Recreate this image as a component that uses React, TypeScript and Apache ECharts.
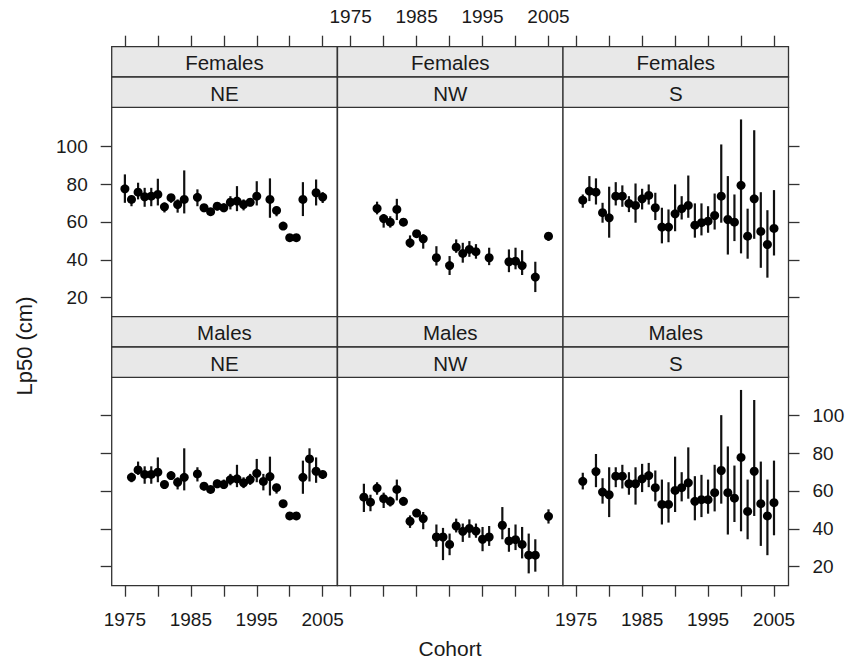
import React, { useEffect, useRef } from "react";
import * as echarts from "echarts";

type Row = [number, number, number, number]; // [cohort, Lp50, lower, upper]

const femalesNE: Row[] = [
  [1975, 77.5, 70.1, 85.1], [1976, 71.9, 68.3, 74.0], [1977, 75.7, 71.9, 80.7],
  [1978, 73.3, 68.0, 78.0], [1979, 73.6, 68.3, 78.0], [1980, 74.5, 68.7, 82.8],
  [1981, 68.0, 65.0, 70.1], [1982, 72.8, 70.1, 74.5], [1983, 69.2, 64.9, 71.9],
  [1984, 71.9, 64.5, 87.2], [1986, 73.0, 68.3, 77.2], [1987, 67.5, 65.2, 69.2],
  [1988, 65.4, 64.0, 67.0], [1989, 68.3, 66.1, 70.4], [1990, 67.5, 65.2, 69.8],
  [1991, 70.4, 66.6, 73.6], [1992, 71.0, 65.7, 78.9], [1993, 69.2, 66.1, 71.9],
  [1994, 70.4, 68.3, 72.5], [1995, 73.6, 68.7, 81.5], [1997, 71.9, 62.2, 83.0],
  [1998, 66.1, 63.0, 68.3], [1999, 57.8, 56.5, 59.2], [2000, 51.7, 50.5, 53.0],
  [2001, 51.7, 50.5, 53.0], [2002, 71.9, 63.1, 81.0], [2004, 75.4, 68.7, 82.4],
  [2005, 73.1, 70.0, 75.7],
];

const femalesNW: Row[] = [
  [1979, 67.1, 64.0, 70.7], [1980, 61.8, 57.0, 64.0], [1981, 59.9, 57.0, 63.0],
  [1982, 66.6, 61.0, 72.2], [1983, 59.9, 58.0, 62.0], [1984, 49.0, 46.4, 52.9],
  [1985, 53.8, 52.5, 55.0], [1986, 51.1, 45.9, 53.4], [1988, 41.1, 37.0, 47.2],
  [1990, 37.0, 32.0, 42.0], [1991, 46.7, 43.7, 50.8], [1992, 43.4, 38.5, 49.0],
  [1993, 45.5, 41.6, 49.9], [1994, 44.3, 40.6, 48.3], [1996, 41.1, 37.2, 46.4],
  [1999, 39.0, 33.5, 45.5], [2000, 39.3, 35.0, 46.4], [2001, 37.0, 32.0, 45.1],
  [2003, 30.9, 23.0, 39.0], [2005, 52.5, 50.0, 54.6],
];

const femalesS: Row[] = [
  [1976, 71.5, 67.5, 74.5], [1977, 76.3, 71.0, 84.2], [1978, 75.7, 69.2, 83.0],
  [1979, 64.9, 59.6, 70.1], [1980, 62.2, 51.7, 78.6], [1981, 73.6, 68.7, 81.0],
  [1982, 73.6, 68.0, 79.3], [1983, 69.8, 65.2, 73.6], [1984, 68.7, 59.6, 80.3],
  [1985, 72.2, 66.6, 77.5], [1986, 74.0, 69.2, 79.8], [1987, 67.5, 61.0, 75.4],
  [1988, 57.3, 48.7, 67.5], [1989, 57.3, 49.3, 66.6], [1990, 64.3, 55.1, 79.8],
  [1991, 67.0, 61.3, 73.6], [1992, 68.7, 62.2, 84.5], [1993, 58.3, 51.7, 69.8],
  [1994, 59.6, 52.9, 69.8], [1995, 60.4, 54.3, 68.3], [1996, 63.4, 56.0, 75.0],
  [1997, 73.6, 59.6, 100.9], [1998, 61.3, 42.8, 84.2], [1999, 59.9, 49.9, 74.5],
  [2000, 79.3, 43.4, 114.1], [2001, 52.5, 40.6, 67.0], [2002, 72.2, 51.1, 108.4],
  [2003, 55.0, 35.8, 75.7], [2004, 48.1, 30.6, 66.2], [2005, 56.6, 42.3, 76.8],
];

const malesNE: Row[] = [
  [1976, 67.2, 64.6, 69.6], [1977, 71.1, 68.5, 75.5], [1978, 68.7, 63.8, 73.0],
  [1979, 68.7, 63.8, 73.0], [1980, 69.9, 64.6, 77.7], [1981, 63.4, 61.0, 65.5],
  [1982, 68.1, 66.0, 70.2], [1983, 64.6, 60.8, 67.2], [1984, 67.2, 60.3, 82.5],
  [1986, 69.0, 65.0, 72.5], [1987, 62.5, 60.3, 64.6], [1988, 60.8, 59.4, 62.0],
  [1989, 63.8, 61.5, 66.0], [1990, 63.4, 61.0, 66.0], [1991, 66.0, 63.0, 69.0],
  [1992, 66.4, 62.0, 73.8], [1993, 64.3, 61.5, 67.2], [1994, 66.0, 63.2, 69.0],
  [1995, 69.3, 64.6, 76.9], [1996, 65.0, 60.3, 69.0], [1997, 67.6, 57.6, 78.1],
  [1998, 61.7, 58.6, 63.8], [1999, 53.3, 52.0, 54.6], [2000, 46.8, 45.5, 48.1],
  [2001, 46.8, 45.5, 48.1], [2002, 67.2, 58.5, 76.0], [2003, 76.9, 65.0, 82.5],
  [2004, 70.4, 64.3, 77.7], [2005, 68.7, 66.4, 70.8],
];

const malesNW: Row[] = [
  [1977, 56.7, 48.9, 63.8], [1978, 54.1, 49.3, 58.0], [1979, 61.5, 58.0, 64.6],
  [1980, 55.9, 51.0, 59.1], [1981, 54.5, 51.8, 57.0], [1982, 60.8, 55.0, 66.0],
  [1983, 54.5, 52.3, 56.8], [1984, 44.0, 40.5, 47.1], [1985, 48.3, 46.3, 50.5],
  [1986, 45.4, 39.8, 48.9], [1988, 35.7, 30.5, 42.3], [1989, 35.7, 23.5, 40.5],
  [1990, 31.8, 26.1, 37.5], [1991, 41.5, 38.1, 45.4], [1992, 38.7, 33.1, 42.8],
  [1993, 40.2, 35.3, 45.0], [1994, 38.8, 35.3, 42.8], [1995, 34.5, 28.2, 41.0],
  [1996, 35.7, 31.0, 41.5], [1998, 41.9, 34.5, 51.5], [1999, 33.6, 27.9, 40.5],
  [2000, 34.3, 28.8, 42.3], [2001, 31.8, 24.4, 41.0], [2002, 26.1, 16.5, 37.5],
  [2003, 26.1, 17.4, 34.5], [2005, 46.6, 42.8, 50.3],
];

const malesS: Row[] = [
  [1976, 65.1, 60.8, 69.6], [1978, 70.2, 62.0, 79.5], [1979, 59.4, 53.3, 66.7],
  [1980, 58.0, 46.2, 72.5], [1981, 67.8, 62.0, 72.5], [1982, 67.8, 61.3, 73.8],
  [1983, 63.8, 58.0, 69.9], [1984, 63.8, 52.8, 72.5], [1985, 66.4, 59.4, 74.3],
  [1986, 68.1, 62.0, 74.8], [1987, 61.7, 54.5, 70.8], [1988, 52.9, 42.3, 66.0],
  [1989, 52.9, 43.3, 64.6], [1990, 60.3, 48.9, 78.1], [1991, 61.7, 54.5, 69.9],
  [1992, 64.3, 55.9, 83.0], [1993, 54.5, 44.5, 67.8], [1994, 55.4, 46.2, 68.5],
  [1995, 55.4, 48.0, 66.0], [1996, 59.1, 49.2, 73.8], [1997, 70.8, 53.3, 100.0],
  [1998, 59.1, 37.0, 83.5], [1999, 56.2, 43.6, 73.4], [2000, 77.7, 38.7, 113.3],
  [2001, 49.2, 34.5, 66.0], [2002, 70.4, 46.8, 108.0], [2003, 53.3, 31.0, 75.5],
  [2004, 46.8, 26.1, 66.0], [2005, 53.8, 36.6, 76.0],
];

const sexes = ["Females", "Males"];
const regions = ["NE", "NW", "S"];
const panelData: Row[][][] = [
  [femalesNE, femalesNW, femalesS],
  [malesNE, malesNW, malesS],
];
const xTickValues = [1975, 1980, 1985, 1990, 1995, 2000, 2005];
const xLabelValues = [1975, 1985, 1995, 2005];
const yTickValues = [20, 40, 60, 80, 100];
const xTitle = "Cohort";
const yTitle = "Lp50 (cm)";

const X_MIN = 1973;
const X_MAX = 2007.2;
const Y_MIN = 10;
const Y_MAX = 120.5;

const FONT = "'Liberation Sans', Arial, Helvetica, sans-serif";
const INK = "#1a1a1a";
const LINE = "#333";

export default function App() {
  const ref = useRef<HTMLDivElement>(null);

  useEffect(() => {
    if (!ref.current) return;
    const chart = echarts.init(ref.current, undefined, { renderer: "svg" });

    const colLeft = [111.7, 337.5, 563.0];
    const panelW = 225.5;
    const stripH = 30.3;
    const rowTop = [107.3, 376.3];
    const panelH = 209.4;
    const stripTop = [46.7, 316.7];

    const grids: any[] = [];
    const xAxes: any[] = [];
    const yAxes: any[] = [];
    const series: any[] = [];
    const graphics: any[] = [];

    for (let r = 0; r < 2; r++) {
      for (let c = 0; c < 3; c++) {
        const i = r * 3 + c;
        grids.push({
          left: colLeft[c],
          top: rowTop[r],
          width: panelW,
          height: panelH,
          show: true,
          borderColor: LINE,
          borderWidth: 1.3,
          backgroundColor: "#fff",
          containLabel: false,
          outerBoundsMode: "none",
        });
        const showXLabel = (r === 0 && c === 1) || (r === 1 && c !== 1);
        xAxes.push({
          type: "value",
          gridIndex: i,
          min: X_MIN,
          max: X_MAX,
          position: r === 0 ? "top" : "bottom",
          offset: r === 0 ? stripH * 2 : 0,
          axisLine: { show: false },
          splitLine: { show: false },
          axisTick: {
            show: true,
            inside: false,
            length: 11,
            customValues: xTickValues,
            lineStyle: { color: LINE, width: 1.3 },
          },
          axisLabel: {
            show: showXLabel,
            customValues: xLabelValues,
            margin: r === 0 ? 21 : 24,
            fontSize: 19,
            color: INK,
            fontFamily: FONT,
            formatter: (v: number) => String(v),
          },
        });
        const showYLabel = (r === 0 && c === 0) || (r === 1 && c === 2);
        yAxes.push({
          type: "value",
          gridIndex: i,
          min: Y_MIN,
          max: Y_MAX,
          position: c === 2 ? "right" : "left",
          show: c !== 1,
          axisLine: { show: false },
          splitLine: { show: false },
          axisTick: {
            show: true,
            inside: false,
            length: 11,
            customValues: yTickValues,
            lineStyle: { color: LINE, width: 1.3 },
          },
          axisLabel: {
            show: showYLabel,
            customValues: yTickValues,
            margin: 24,
            fontSize: 19,
            color: INK,
            fontFamily: FONT,
          },
        });
        series.push({
          type: "custom",
          xAxisIndex: i,
          yAxisIndex: i,
          data: panelData[r][c],
          encode: { x: 0, y: [1, 2, 3] },
          renderItem: (params: any, api: any) => {
            const x = api.value(0);
            const m = api.value(1);
            const lo = api.value(2);
            const hi = api.value(3);
            const pLo = api.coord([x, lo]);
            const pHi = api.coord([x, hi]);
            const pM = api.coord([x, m]);
            return {
              type: "group",
              children: [
                {
                  type: "line",
                  shape: { x1: pLo[0], y1: pLo[1], x2: pHi[0], y2: pHi[1] },
                  style: { stroke: "#111", lineWidth: 2.2 },
                },
                {
                  type: "circle",
                  shape: { cx: pM[0], cy: pM[1], r: 4.5 },
                  style: { fill: "#000" },
                },
              ],
            };
          },
        });

        // strips
        const labels = [sexes[r], regions[c]];
        for (let k = 0; k < 2; k++) {
          const y0 = stripTop[r] + k * stripH;
          graphics.push({
            type: "rect",
            shape: { x: colLeft[c], y: y0, width: panelW, height: stripH },
            style: { fill: "#e8e8e8", stroke: LINE, lineWidth: 1.3 },
            z: 10,
          });
          graphics.push({
            type: "text",
            x: colLeft[c] + panelW / 2,
            y: y0 + stripH / 2 + 1,
            style: {
              text: labels[k],
              fontSize: 20.5,
              fontFamily: FONT,
              fill: INK,
              textAlign: "center",
              textVerticalAlign: "middle",
              align: "center",
              verticalAlign: "middle",
            },
            z: 11,
          });
        }
      }
    }

    graphics.push({
      type: "text",
      x: 450,
      y: 648,
      style: {
        text: xTitle,
        fontSize: 21,
        fontFamily: FONT,
        fill: INK,
        textAlign: "center",
        textVerticalAlign: "middle",
        align: "center",
        verticalAlign: "middle",
      },
    });
    graphics.push({
      type: "text",
      x: 24,
      y: 346,
      rotation: Math.PI / 2,
      style: {
        text: yTitle,
        fontSize: 22,
        fontFamily: FONT,
        fill: INK,
        textAlign: "center",
        textVerticalAlign: "middle",
        align: "center",
        verticalAlign: "middle",
      },
    });

    chart.setOption({
      animation: false,
      backgroundColor: "#fff",
      grid: grids,
      xAxis: xAxes,
      yAxis: yAxes,
      series,
      graphic: { elements: graphics },
    });

    return () => chart.dispose();
  }, []);

  return (
    <div
      ref={ref}
      style={{ position: "absolute", left: 0, top: 0, width: 847, height: 661, background: "#fff" }}
    />
  );
}
